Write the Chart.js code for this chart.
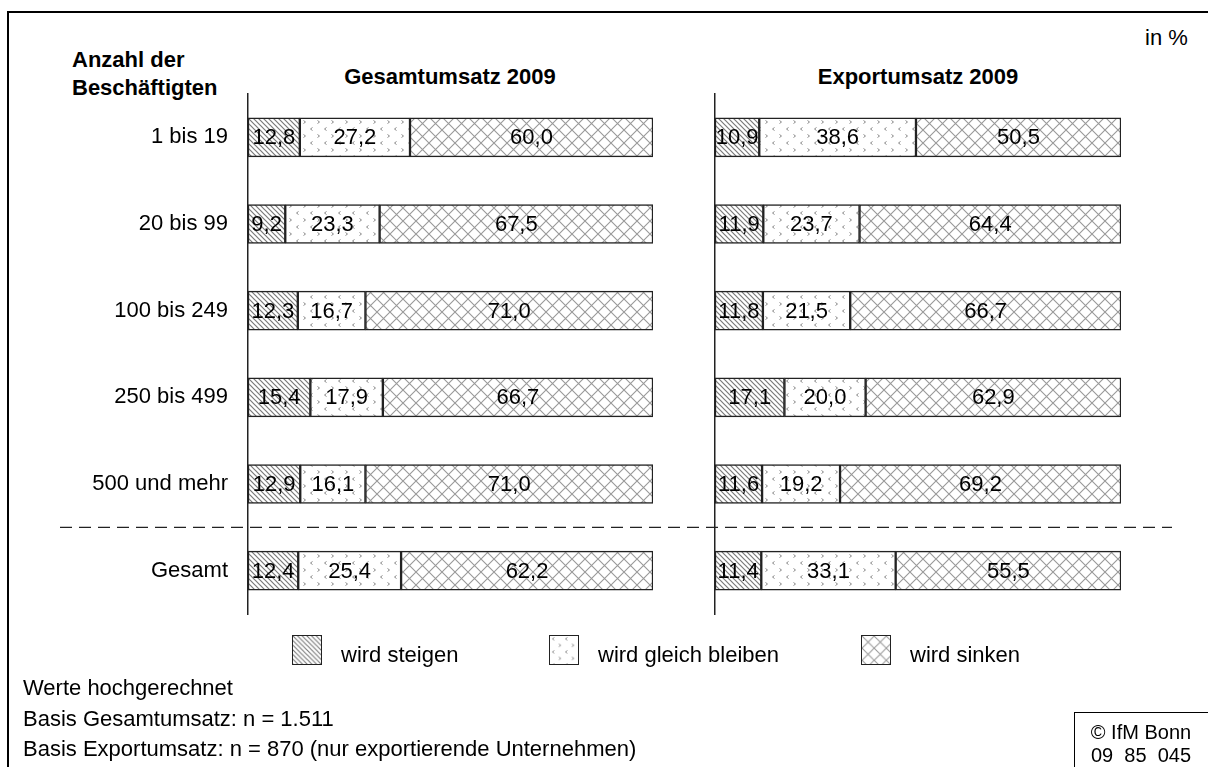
<!DOCTYPE html>
<html>
<head>
<meta charset="utf-8">
<script src="https://cdn.jsdelivr.net/npm/chart.js@4/dist/chart.umd.min.js"></script>
<style>
  body { margin: 0; width: 1208px; height: 767px; position: relative; overflow: hidden; background: #fff;
         font-family: "Liberation Sans", Arial, sans-serif; color: #000; }
  .frame { position: absolute; left: 7px; top: 11px; width: 1300px; height: 900px;
           border-left: 2px solid #000; border-top: 2px solid #000; }
  canvas.chart { position: absolute; left: 0; top: 0; }
  .t { position: absolute; font-size: 22px; line-height: 26px; white-space: nowrap; }
  .b { font-weight: bold; }
  .c { transform: translateX(-50%); }
  .swatch { position: absolute; width: 30px; height: 30px; box-sizing: border-box; border: 1.5px solid #222; }
  .copy { position: absolute; left: 1074px; top: 712px; width: 200px; height: 100px;
          border-left: 1.5px solid #000; border-top: 1.5px solid #000; }
</style>
</head>
<body>
<div class="frame"></div>

<div class="t" style="left:1145px; top:25px;">in %</div>
<div class="t b" style="left:72px; top:47px;">Anzahl der</div>
<div class="t b" style="left:72px; top:75px;">Beschäftigten</div>
<div class="t b c" style="left:450px; top:64px;">Gesamtumsatz 2009</div>
<div class="t b c" style="left:918px; top:64px;">Exportumsatz 2009</div>

<canvas id="leftChart" class="chart" width="1208" height="767"></canvas>
<canvas id="rightChart" class="chart" width="1208" height="767"></canvas>

<div id="legend"></div>

<div class="t" style="left:23px; top:675px;">Werte hochgerechnet</div>
<div class="t" style="left:23px; top:706px;">Basis Gesamtumsatz: n = 1.511</div>
<div class="t" style="left:23px; top:736px;">Basis Exportumsatz: n = 870 (nur exportierende Unternehmen)</div>

<div class="copy"></div>
<div class="t c" style="left:1141px; top:719px; font-size:20px;">© IfM Bonn</div>
<div class="t c" style="left:1141px; top:742px; font-size:20px;">09&nbsp; 85&nbsp; 045</div>

<script>
"use strict";

// Data (in %)
const groups = ["1 bis 19", "20 bis 99", "100 bis 249", "250 bis 499", "500 und mehr", "Gesamt"];
const seriesNames = ["wird steigen", "wird gleich bleiben", "wird sinken"];

const gesamtSteigen = [12.8, 9.2, 12.3, 15.4, 12.9, 12.4];
const gesamtGleich  = [27.2, 23.3, 16.7, 17.9, 16.1, 25.4];
const gesamtSinken  = [60.0, 67.5, 71.0, 66.7, 71.0, 62.2];

const exportSteigen = [10.9, 11.9, 11.8, 17.1, 11.6, 11.4];
const exportGleich  = [38.6, 23.7, 21.5, 20.0, 19.2, 33.1];
const exportSinken  = [50.5, 64.4, 66.7, 62.9, 69.2, 55.5];

const legendX = [292, 549, 861];

/**
 * Build the hatch fills used for the three answers
 */
function makePattern(kind) {
  const c = document.createElement("canvas");
  const ctx = c.getContext("2d");
  if (kind === "diag") {
    c.width = 5; c.height = 5;
    ctx.fillStyle = "#fff";
    ctx.fillRect(0, 0, 5, 5);
    ctx.strokeStyle = "#7a7a7a";
    ctx.lineWidth = 1.2;
    ctx.beginPath();
    ctx.moveTo(-1, -1); ctx.lineTo(6, 6);
    ctx.moveTo(-1, 4); ctx.lineTo(1, 6);
    ctx.moveTo(4, -1); ctx.lineTo(6, 1);
    ctx.stroke();
  } else if (kind === "dots") {
    c.width = 14; c.height = 14;
    ctx.fillStyle = "#fff";
    ctx.fillRect(0, 0, 14, 14);
    ctx.strokeStyle = "#8a8a8a";
    ctx.lineWidth = 1;
    ctx.beginPath();
    // small "<" and ">" marks
    ctx.moveTo(4.5, 1.5); ctx.lineTo(2.5, 3); ctx.lineTo(4.5, 4.5);
    ctx.moveTo(9.5, 8.5); ctx.lineTo(11.5, 10); ctx.lineTo(9.5, 11.5);
    ctx.stroke();
  } else {
    c.width = 13; c.height = 13;
    ctx.fillStyle = "#fff";
    ctx.fillRect(0, 0, 13, 13);
    ctx.strokeStyle = "#999";
    ctx.lineWidth = 1.1;
    ctx.beginPath();
    ctx.moveTo(-1, -1); ctx.lineTo(14, 14);
    ctx.moveTo(-1, 14); ctx.lineTo(14, -1);
    ctx.stroke();
  }
  return ctx.createPattern(c, "repeat");
}

const fills = [makePattern("diag"), makePattern("dots"), makePattern("cross")];

// value labels centred in each segment
const valueLabels = {
  id: "valueLabels",
  afterDatasetsDraw(chart) {
    const ctx = chart.ctx;
    ctx.save();
    ctx.font = "22px 'Liberation Sans', Arial, sans-serif";
    ctx.fillStyle = "#000";
    ctx.textAlign = "center";
    ctx.textBaseline = "middle";
    chart.data.datasets.forEach((ds, di) => {
      chart.getDatasetMeta(di).data.forEach((bar, i) => {
        const v = ds.data[i];
        ctx.fillText(v.toFixed(1).replace(".", ","), (bar.x + bar.base) / 2, bar.y + 1);
      });
    });
    ctx.restore();
  },
};

// dashed separator above "Gesamt"
const separator = {
  id: "separator",
  afterDraw(chart) {
    const y = chart.scales.y;
    const py = (y.getPixelForValue(4) + y.getPixelForValue(5)) / 2;
    const ctx = chart.ctx;
    ctx.save();
    ctx.strokeStyle = "#222";
    ctx.lineWidth = 1.3;
    ctx.setLineDash([12, 7]);
    ctx.beginPath();
    ctx.moveTo(60, py);
    ctx.lineTo(1172, py);
    ctx.stroke();
    ctx.restore();
  },
};

function buildChart(canvasId, values, opts) {
  return new Chart(document.getElementById(canvasId), {
    type: "bar",
    data: {
      labels: groups,
      datasets: values.map((vals, i) => ({
        label: seriesNames[i],
        data: vals,
        backgroundColor: fills[i],
        borderColor: "#222",
        borderWidth: 1.5,
        borderSkipped: false,
        barThickness: 39,
      })),
    },
    options: {
      indexAxis: "y",
      responsive: false,
      animation: false,
      events: [],
      layout: { padding: opts.padding },
      plugins: { legend: { display: false }, tooltip: { enabled: false } },
      scales: {
        x: { stacked: true, min: 0, max: 100, display: false },
        y: {
          stacked: true,
          grid: { display: false, drawTicks: false },
          border: { display: true, color: "#222", width: 1.5 },
          ticks: {
            display: opts.showTicks,
            color: "#000",
            padding: 20,
            font: { family: "'Liberation Sans', Arial, sans-serif", size: 22 },
          },
          afterFit: (s) => { s.width = opts.axisWidth; },
        },
      },
    },
    plugins: opts.plugins,
  });
}

buildChart("leftChart", [gesamtSteigen, gesamtGleich, gesamtSinken], {
  padding: { left: 7, right: 555, top: 94, bottom: 153 },
  axisWidth: 241,
  showTicks: true,
  plugins: [valueLabels, separator],
});

buildChart("rightChart", [exportSteigen, exportGleich, exportSinken], {
  padding: { left: 715, right: 87, top: 94, bottom: 153 },
  axisWidth: 0,
  showTicks: false,
  plugins: [valueLabels],
});

// legend with pattern swatches
const legend = document.getElementById("legend");
seriesNames.forEach((name, i) => {
  const sw = document.createElement("canvas");
  sw.width = 30; sw.height = 30;
  sw.className = "swatch";
  sw.style.left = legendX[i] + "px";
  sw.style.top = "635px";
  const sctx = sw.getContext("2d");
  sctx.fillStyle = fills[i];
  sctx.fillRect(0, 0, 30, 30);
  legend.appendChild(sw);

  const label = document.createElement("div");
  label.className = "t";
  label.style.left = (legendX[i] + 49) + "px";
  label.style.top = "642px";
  label.textContent = name;
  legend.appendChild(label);
});
</script>
</body>
</html>
